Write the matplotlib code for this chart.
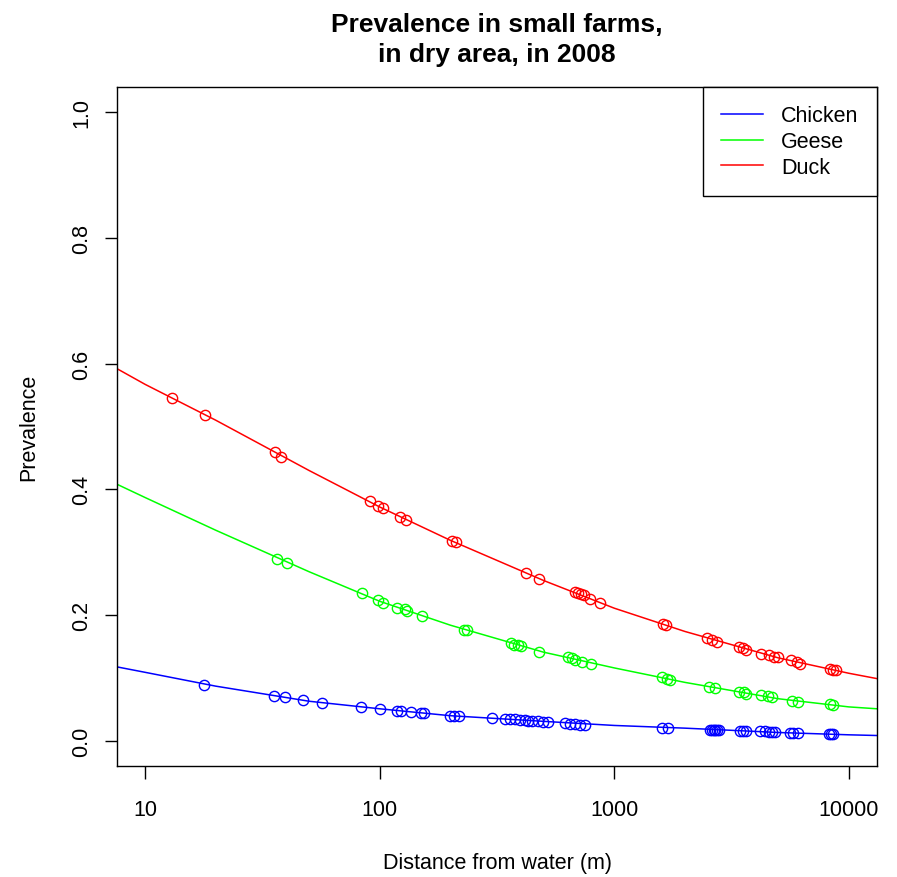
import matplotlib
matplotlib.use("Agg")
import matplotlib.pyplot as plt
import numpy as np

plt.rcParams['font.family'] = ['Liberation Sans', 'DejaVu Sans']

# Fitted curves
curve_dist = [7.5, 10, 20, 50, 100, 200, 500, 1000, 2000, 5000, 10000, 13180]
chicken_curve = [0.118, 0.109, 0.087, 0.063, 0.051, 0.040, 0.031, 0.0245, 0.0202, 0.0133, 0.0096, 0.0085]
geese_curve = [0.409, 0.387, 0.335, 0.269, 0.222, 0.184, 0.141, 0.116, 0.093, 0.067, 0.054, 0.051]
duck_curve = [0.593, 0.567, 0.510, 0.430, 0.372, 0.319, 0.255, 0.211, 0.174, 0.132, 0.1075, 0.099]

# Observed points
duck_dist = [13, 18, 35.6, 37.8, 90.6, 98, 103, 122, 130, 203, 211, 421, 478, 681, 700, 720, 740,
             789, 871, 1610, 1660, 2495, 2600, 2754, 3390, 3530, 3640, 4207, 4550, 4800, 5000,
             5650, 6000, 6200, 8300, 8550, 8800]
duck_prev = [0.545, 0.518, 0.460, 0.452, 0.382, 0.374, 0.371, 0.356, 0.351, 0.318, 0.316, 0.267,
             0.257, 0.236, 0.235, 0.233, 0.232, 0.225, 0.219, 0.186, 0.185, 0.163, 0.161, 0.158,
             0.150, 0.148, 0.145, 0.138, 0.136, 0.134, 0.133, 0.128, 0.125, 0.123, 0.114, 0.113, 0.112]

geese_dist = [36.6, 40.1, 83.8, 98, 103, 118, 128, 131, 151, 229, 235, 363, 374, 390, 400, 478,
              635, 660, 680, 730, 794, 1604, 1670, 1720, 2546, 2680, 3390, 3560, 3640, 4240,
              4510, 4700, 5740, 6100, 8350, 8550]
geese_prev = [0.289, 0.283, 0.235, 0.224, 0.219, 0.212, 0.209, 0.206, 0.198, 0.177, 0.176, 0.155,
              0.153, 0.152, 0.151, 0.142, 0.133, 0.131, 0.129, 0.126, 0.123, 0.101, 0.099, 0.097,
              0.085, 0.084, 0.078, 0.077, 0.075, 0.073, 0.071, 0.070, 0.064, 0.062, 0.058, 0.057]

chicken_dist = [17.9, 35.5, 39.6, 47.3, 56.5, 83, 100, 118, 123, 136, 150, 154, 200, 208, 217,
                301, 342, 359, 377, 396, 415, 428, 448, 473, 497, 520, 614, 646, 680, 714, 750,
                1600, 1700, 2550, 2600, 2650, 2700, 2750, 2800, 3450, 3550, 3650, 4200, 4400,
                4550, 4700, 4850, 5600, 5800, 6100, 8200, 8400, 8600]
chicken_prev = [0.089, 0.071, 0.069, 0.065, 0.061, 0.054, 0.051, 0.048, 0.047, 0.046, 0.044, 0.044,
                0.040, 0.040, 0.039, 0.036, 0.034, 0.034, 0.034, 0.033, 0.033, 0.032, 0.031, 0.031,
                0.030, 0.030, 0.028, 0.027, 0.027, 0.026, 0.026,
                0.021, 0.021, 0.017, 0.017, 0.017, 0.017, 0.017, 0.017, 0.016, 0.016, 0.016,
                0.015, 0.015, 0.014, 0.014, 0.014, 0.013, 0.013, 0.013, 0.011, 0.011, 0.011]

x_ticks = [10, 100, 1000, 10000]
x_ticklabels = ["10", "100", "1000", "10000"]
y_ticks = [0.0, 0.2, 0.4, 0.6, 0.8, 1.0]
y_ticklabels = ["0.0", "0.2", "0.4", "0.6", "0.8", "1.0"]

FS = 15.5

fig = plt.figure(figsize=(8.97, 8.78), dpi=100)
ax = fig.add_axes([117/897, 111/878, 760/897, 679/878])

series = [("Chicken", "#0000FF", chicken_curve, chicken_dist, chicken_prev),
          ("Geese", "#00FF00", geese_curve, geese_dist, geese_prev),
          ("Duck", "#FF0000", duck_curve, duck_dist, duck_prev)]
for name, col, curve, d, p in series:
    ax.plot(curve_dist, curve, color=col, lw=1.1, label=name)
    ax.plot(d, p, linestyle='none', marker='o', markersize=7.4, markerfacecolor='none',
            markeredgecolor=col, markeredgewidth=1.0)

ax.set_xscale('log')
lo, hi = np.log10(10), np.log10(10000)
pad = (hi - lo) * 0.04
ax.set_xlim(10 ** (lo - pad), 10 ** (hi + pad))
ax.set_ylim(-0.04, 1.04)
ax.set_xticks(x_ticks)
ax.set_xticklabels(x_ticklabels)
ax.xaxis.set_minor_locator(matplotlib.ticker.NullLocator())
ax.set_yticks(y_ticks)
ax.set_yticklabels(y_ticklabels, rotation=90, va='center')
ax.tick_params(axis='both', direction='out', length=9, width=1, labelsize=FS, colors='black')
ax.tick_params(axis='x', pad=15)
ax.tick_params(axis='y', pad=9)
for s in ax.spines.values():
    s.set_linewidth(1.0)
    s.set_color('black')

ax.set_xlabel("Distance from water (m)", fontsize=FS, labelpad=23)
ax.set_ylabel("Prevalence", fontsize=FS, labelpad=23)
ax.set_title("Prevalence in small farms,\nin dry area, in 2008", fontsize=19,
             fontweight='bold', pad=19, linespacing=1.32)

leg = ax.legend(loc='upper right', borderaxespad=0, fancybox=False, framealpha=1,
                edgecolor='black', fontsize=FS, handlelength=1.95, handletextpad=0.85,
                borderpad=0.85, labelspacing=0.22)
leg.get_frame().set_linewidth(1.0)

fig.savefig("out.png", dpi=100)
